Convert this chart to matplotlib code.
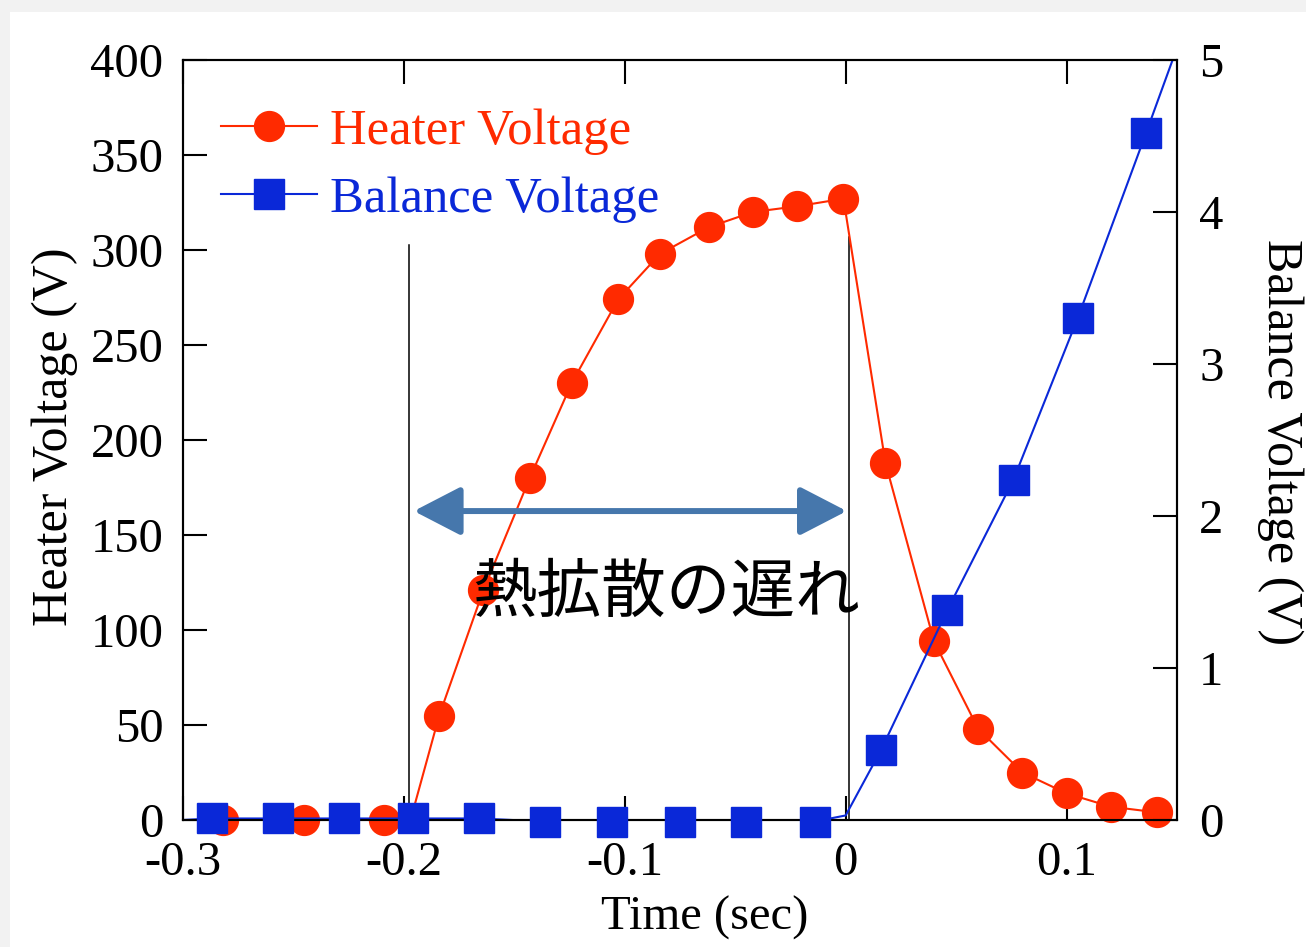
import matplotlib
matplotlib.use("Agg")
import matplotlib.pyplot as plt
from matplotlib.patches import FancyArrowPatch, Rectangle
import numpy as np

# heater voltage (left axis) sampled points
heater_t = [-0.282, -0.245, -0.209, -0.184, -0.164, -0.143, -0.124, -0.103, -0.084,
            -0.062, -0.042, -0.022, -0.001, 0.018, 0.040, 0.060, 0.080, 0.100, 0.120, 0.141]
heater_v = [0, 0, 0, 55, 121, 180, 230, 274, 298, 312, 320, 323, 327, 188, 94, 48, 25, 14, 7, 4]
# extra knot where the heater trace leaves zero
heater_knot_t = [-0.197]
heater_knot_v = [0]

# balance voltage (right axis) sampled points
balance_t = [-0.287, -0.257, -0.227, -0.196, -0.166, -0.136, -0.106, -0.075, -0.045,
             -0.014, 0.016, 0.046, 0.076, 0.105, 0.136]
balance_v = [0.01, 0.01, 0.01, 0.01, 0.01, -0.01, -0.01, -0.01, -0.01, -0.01,
             0.46, 1.38, 2.24, 3.30, 4.52]
# trace knots: start, rise point, saturation at the top
balance_knot_t = [-0.300, 0.000, 0.148]
balance_knot_v = [0.0, 0.03, 5.0]

xticks = [-0.3, -0.2, -0.1, 0, 0.1]
xtick_labels = ["-0.3", "-0.2", "-0.1", "0", "0.1"]
heater_ticks = list(range(0, 401, 50))
balance_ticks = [0, 1, 2, 3, 4, 5]

delay_start = -0.1977   # heater switched on
delay_end = 0.0014      # balance voltage starts to rise

RED = "#ff2a00"
BLUE = "#0a28d8"
ARROW = "#4677ac"

plt.rcParams["font.family"] = ["Liberation Serif", "DejaVu Serif"]
plt.rcParams["axes.unicode_minus"] = False
FS = 35

fig = plt.figure(figsize=(13.06, 9.47), dpi=100, facecolor="#f2f2f2")
fig.patches.append(Rectangle((10 / 1306, 0), 1, 1 - 12 / 947, transform=fig.transFigure,
                             facecolor="white", edgecolor="none", zorder=-10))

ax1 = fig.add_axes([183 / 1306, 1 - 820 / 947, 994 / 1306, 760 / 947])
ax1.set_facecolor("none")
ax2 = ax1.twinx()

def merged(t, v, kt, kv):
    pts = sorted(zip(list(t) + list(kt), list(v) + list(kv)))
    return [p[0] for p in pts], [p[1] for p in pts]

# heater trace
lt, lv = merged(heater_t, heater_v, heater_knot_t, heater_knot_v)
ax1.plot(lt, lv, color=RED, lw=1.5, zorder=2)
ax1.plot(heater_t, heater_v, "o", color=RED, ms=21.5, zorder=3, clip_on=False)
hline, = ax1.plot([], [], "-o", color=RED, lw=1.5, ms=21.5)

# balance trace
bt, bv = merged(balance_t, balance_v, balance_knot_t, balance_knot_v)
ax2.plot(bt, bv, color=BLUE, lw=1.5, zorder=2)
ax2.plot(balance_t, balance_v, "s", color=BLUE, ms=21.5, zorder=3, clip_on=False)
bline, = ax2.plot([], [], "-s", color=BLUE, lw=1.5, ms=21.5)

# delay markers
ax1.plot([delay_start, delay_start], [0, 302.6], color="black", lw=1.1, zorder=1)
ax1.plot([delay_end, delay_end], [0, 306.8], color="black", lw=1.1, zorder=1)
arrow = FancyArrowPatch((delay_start + 0.0022, 162.6), (delay_end - 0.0009, 162.6),
                        arrowstyle="<|-|>,head_length=2.9,head_width=1.5",
                        mutation_scale=10, color=ARROW, lw=4.3, shrinkA=0, shrinkB=0, zorder=4)
ax1.add_patch(arrow)
ax1.text(-0.0815, 119, "熱拡散の遅れ", fontsize=46.5, ha="center", va="center",
         family=["Noto Sans CJK JP", "DejaVu Sans"], color="black", zorder=6)

ax1.set_xlim(-0.3, 0.15)
ax1.set_ylim(0, 400)
ax2.set_ylim(0, 5)

ax1.set_xticks(xticks)
ax1.set_xticklabels(xtick_labels)
ax1.set_yticks(heater_ticks)
ax2.set_yticks(balance_ticks)

ax1.tick_params(axis="x", direction="in", length=17, width=1.5, labelsize=FS, pad=15, top=True)
ax1.tick_params(axis="y", direction="in", length=17, width=1.5, labelsize=FS, pad=14)
ax2.tick_params(axis="y", direction="in", length=17, width=1.5, labelsize=FS, pad=16)
for ax in (ax1, ax2):
    for s in ax.spines.values():
        s.set_linewidth(1.5)

ax1.set_xlabel("Time (sec)", fontsize=FS)
ax1.xaxis.set_label_coords(0.525, -0.1)
ax1.set_ylabel("Heater Voltage (V)", fontsize=36)
ax1.yaxis.set_label_coords(-0.106, 0.504)
ax2.set_ylabel("Balance Voltage (V)", fontsize=36, rotation=270, va="bottom")
ax2.yaxis.set_label_coords(1.0805, 0.497)

leg = ax2.legend([hline, bline], ["Heater Voltage", "Balance Voltage"], loc="upper left",
                 bbox_to_anchor=(0.038, 0.936), frameon=False, fontsize=36.5,
                 handlelength=1.9, handletextpad=0.26, labelspacing=0.42,
                 borderaxespad=0, borderpad=0)
for txt, c in zip(leg.get_texts(), [RED, BLUE]):
    txt.set_color(c)

fig.savefig("out.png", dpi=100, facecolor=fig.get_facecolor())
